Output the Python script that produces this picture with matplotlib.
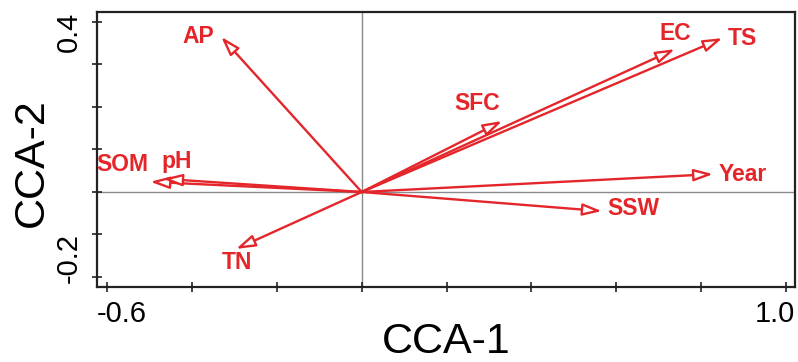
import matplotlib
matplotlib.use("Agg")
import matplotlib.pyplot as plt
import numpy as np
from matplotlib.patches import FancyArrowPatch

plt.rcParams['font.family'] = ['Liberation Sans', 'DejaVu Sans']

# Data: variable names, arrow tips (CCA-1, CCA-2), label positions
names = ['AP', 'EC', 'TS', 'SFC', 'Year', 'SSW', 'TN', 'SOM', 'pH']
cca1 = [-0.331, 0.738, 0.850, 0.331, 0.828, 0.566, -0.296, -0.498, -0.468]
cca2 = [0.365, 0.336, 0.362, 0.167, 0.042, -0.045, -0.134, 0.024, 0.031]
lab_x = [-0.386, 0.738, 0.897, 0.272, 0.899, 0.640, -0.294, -0.565, -0.435]
lab_y = [0.365, 0.374, 0.360, 0.209, 0.042, -0.040, -0.167, 0.064, 0.071]

xticks = [-0.6, -0.4, -0.2, 0.0, 0.2, 0.4, 0.6, 0.8, 1.0]
yticks = [-0.2, -0.1, 0.0, 0.1, 0.2, 0.3, 0.4]
xtick_labels = ['-0.6', '1.0']
ytick_labels = ['-0.2', '0.4']

red = '#E4262B'

fig = plt.figure(figsize=(7.98, 3.62), dpi=100)
ax = fig.add_axes([0.1216, 0.2072, 0.9962 - 0.1216, 0.9669 - 0.2072])
ax.set_xlim(-0.6236, 1.021)
ax.set_ylim(-0.2235, 0.4235)

ax.axhline(0, color='#8a8a8a', lw=1.0, zorder=1)
ax.axvline(0, color='#8a8a8a', lw=1.0, zorder=1)

for x, y in zip(cca1, cca2):
    arr = FancyArrowPatch((0, 0), (x, y),
                          arrowstyle='-|>,head_length=1.15,head_width=0.36',
                          mutation_scale=10, lw=1.7, ec=red, fc='white',
                          shrinkA=0, shrinkB=0, zorder=3)
    ax.add_patch(arr)

for n, x, y in zip(names, lab_x, lab_y):
    ax.text(x, y, n, color=red, fontsize=16.5, fontweight='bold',
            ha='center', va='center', zorder=4)

for s in ax.spines.values():
    s.set_linewidth(1.6)
    s.set_color('#222222')

ax.set_xticks(xticks)
ax.set_yticks(yticks)
ax.set_xticklabels([])
ax.set_yticklabels([])
ax.tick_params(direction='inout', length=7, width=1.2, color='#222222')

# Tick labels placed at the spine edges as in the reference
ax.text(0.0, -0.1, xtick_labels[0], transform=ax.transAxes, fontsize=21,
        ha='left', va='center')
ax.text(1.0, -0.1, xtick_labels[1], transform=ax.transAxes, fontsize=21,
        ha='right', va='center')
ax.text(-0.04, 0.0 + 0.015, ytick_labels[0], transform=ax.transAxes, fontsize=21,
        ha='center', va='bottom', rotation=90)
ax.text(-0.04, 1.0, ytick_labels[1], transform=ax.transAxes, fontsize=21,
        ha='center', va='top', rotation=90)

fig.text(446 / 798, 1 - 342 / 362, 'CCA-1', fontsize=31, ha='center', va='center')
fig.text(32 / 798, 1 - 163 / 362, 'CCA-2', fontsize=31, ha='center', va='center',
         rotation=90)

fig.savefig('out.png', dpi=100)
